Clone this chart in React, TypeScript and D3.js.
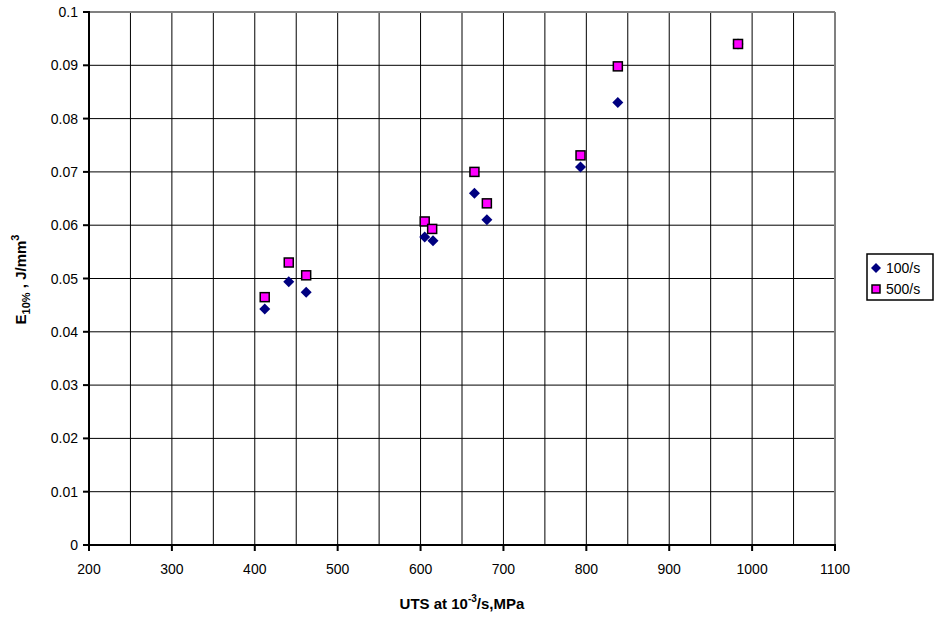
import React from "react";
import * as d3 from "d3";

const xTicks = [200, 300, 400, 500, 600, 700, 800, 900, 1000, 1100];
const yTicks = [0, 0.01, 0.02, 0.03, 0.04, 0.05, 0.06, 0.07, 0.08, 0.09, 0.1];
const xGrid = [250, 300, 350, 400, 450, 500, 550, 600, 650, 700, 750, 800, 850, 900, 950, 1000, 1050];

const series100X = [412, 441, 462, 605, 615, 665, 680, 793, 838, 983];
const series100Y = [0.0443, 0.0494, 0.0474, 0.0578, 0.0571, 0.066, 0.061, 0.0709, 0.083, 0.094];
const series500X = [412, 441, 462, 605, 614, 665, 680, 793, 838, 983];
const series500Y = [0.0465, 0.053, 0.0506, 0.0607, 0.0593, 0.070, 0.0641, 0.0731, 0.0898, 0.094];

const W = 935, H = 623;
const L = 89, R = 835, T = 12, B = 545;

export default function App() {
  const x = d3.scaleLinear().domain([200, 1100]).range([L, R]);
  const y = d3.scaleLinear().domain([0, 0.1]).range([B, T]);
  const font = "'Liberation Sans', Arial, sans-serif";
  const diamond = (cx: number, cy: number, r: number) =>
    `M${cx},${cy - r}L${cx + r},${cy}L${cx},${cy + r}L${cx - r},${cy}Z`;
  return (
    <svg width={W} height={H} style={{ position: "absolute", left: 0, top: 0, background: "#fff" }} fontFamily={font}>
      <rect x={0} y={0} width={W} height={H} fill="#fff" />
      {yTicks.slice(1, -1).map((t) => (
        <line key={"hy" + t} x1={L} x2={R} y1={y(t)} y2={y(t)} stroke="#000" strokeWidth={1} />
      ))}
      {xGrid.map((t) => (
        <line key={"vx" + t} x1={x(t)} x2={x(t)} y1={T} y2={B} stroke="#000" strokeWidth={1} />
      ))}
      <line x1={L} x2={R} y1={T} y2={T} stroke="#808080" strokeWidth={2} />
      <line x1={R} x2={R} y1={T} y2={B} stroke="#808080" strokeWidth={2} />
      <line x1={L} x2={L} y1={T - 1} y2={B} stroke="#000" strokeWidth={2} />
      <line x1={L} x2={R + 1} y1={B} y2={B} stroke="#000" strokeWidth={2} />
      {yTicks.map((t) => (
        <g key={"yt" + t}>
          <line x1={L - 6} x2={L} y1={y(t)} y2={y(t)} stroke="#000" strokeWidth={2} />
          <text x={L - 11} y={y(t) + 5} fontSize={14} textAnchor="end" fill="#000">
            {String(t)}
          </text>
        </g>
      ))}
      {xTicks.map((t) => (
        <g key={"xt" + t}>
          <line x1={x(t)} x2={x(t)} y1={B} y2={B + 6} stroke="#000" strokeWidth={2} />
          <text x={x(t)} y={B + 29} fontSize={14} textAnchor="middle" fill="#000">
            {t}
          </text>
        </g>
      ))}
      <text x={(L + R) / 2} y={609} fontSize={15} fontWeight="bold" textAnchor="middle" fill="#000">
        UTS at 10<tspan dy={-7} fontSize={10}>-3</tspan><tspan dy={7}>/s,MPa</tspan>
      </text>
      <text transform={`translate(26,${(T + B) / 2 + 1}) rotate(-90)`} fontSize={15} fontWeight="bold" textAnchor="middle" fill="#000">
        E<tspan dy={4} fontSize={11}>10%</tspan><tspan dy={-4}> , J/mm</tspan><tspan dy={-7} fontSize={11}>3</tspan>
      </text>
      {series100X.map((v, i) => (
        <path key={"d" + i} d={diamond(x(v), y(series100Y[i]), 5.5)} fill="#000080" />
      ))}
      {series500X.map((v, i) => (
        <rect key={"s" + i} x={x(v) - 4.5} y={y(series500Y[i]) - 4.5} width={9} height={9} fill="#FF00FF" stroke="#000" strokeWidth={1.5} />
      ))}
      <rect x={867} y={254} width={66} height={46} fill="#fff" stroke="#000" strokeWidth={1.5} />
      <path d={diamond(876, 268, 5)} fill="#000080" />
      <text x={886} y={273} fontSize={14} fill="#000">100/s</text>
      <rect x={872} y={285} width={8} height={8} fill="#FF00FF" stroke="#000" strokeWidth={1.5} />
      <text x={886} y={294} fontSize={14} fill="#000">500/s</text>
    </svg>
  );
}
